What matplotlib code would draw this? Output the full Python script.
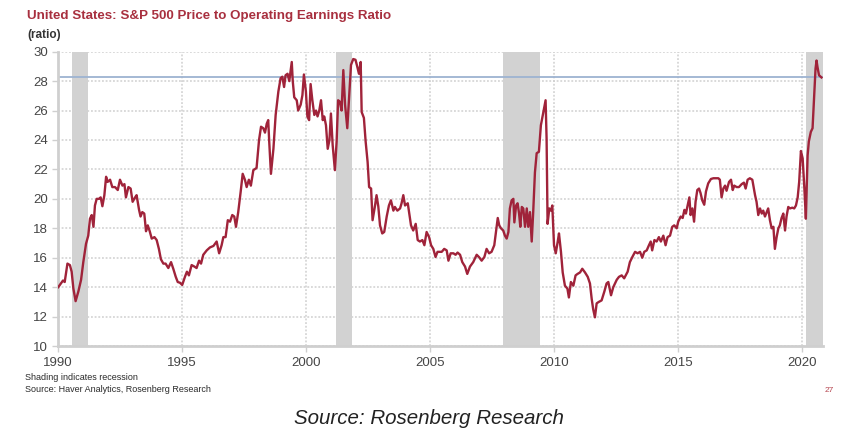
import matplotlib.pyplot as plt

# monthly-ish readings of the S&P 500 P/E (operating earnings), decimal years
dates = [1990.01, 1990.2, 1990.27, 1990.38, 1990.48, 1990.55, 1990.62, 1990.71, 1990.82, 1990.93,
         1991.02, 1991.13, 1991.22, 1991.29, 1991.36, 1991.43, 1991.49, 1991.56, 1991.65, 1991.72,
         1991.79, 1991.87, 1991.94, 1992.0, 1992.1, 1992.19, 1992.3, 1992.41, 1992.5, 1992.6,
         1992.68, 1992.74, 1992.84, 1992.93, 1993.01, 1993.11, 1993.17, 1993.27, 1993.33, 1993.4,
         1993.48, 1993.55, 1993.62, 1993.7, 1993.78, 1993.89, 1993.98, 1994.07, 1994.15, 1994.25,
         1994.34, 1994.45, 1994.56, 1994.65, 1994.75, 1994.83, 1994.92, 1995.01, 1995.12, 1995.2,
         1995.28, 1995.39, 1995.5, 1995.59, 1995.69, 1995.77, 1995.86, 1996.0, 1996.13, 1996.27,
         1996.4, 1996.5, 1996.6, 1996.67, 1996.76, 1996.85, 1996.94, 1997.03, 1997.11, 1997.18,
         1997.27, 1997.37, 1997.45, 1997.54, 1997.61, 1997.7, 1997.78, 1997.88, 1998.01, 1998.11,
         1998.19, 1998.28, 1998.35, 1998.42, 1998.48, 1998.52, 1998.59, 1998.69, 1998.78, 1998.89,
         1998.98, 1999.05, 1999.12, 1999.18, 1999.26, 1999.33, 1999.43, 1999.47, 1999.53, 1999.63,
         1999.69, 1999.79, 1999.86, 1999.92, 2000.0, 2000.06, 2000.13, 2000.19, 2000.26, 2000.34,
         2000.41, 2000.47, 2000.54, 2000.61, 2000.68, 2000.74, 2000.81, 2000.88, 2000.95, 2001.01,
         2001.08, 2001.17, 2001.24, 2001.3, 2001.37, 2001.44, 2001.51, 2001.58, 2001.67, 2001.74,
         2001.82, 2001.91, 2002.0, 2002.07, 2002.14, 2002.21, 2002.25, 2002.34, 2002.41, 2002.49,
         2002.55, 2002.63, 2002.69, 2002.79, 2002.85, 2002.92, 2002.99, 2003.08, 2003.16, 2003.26,
         2003.35, 2003.43, 2003.53, 2003.59, 2003.69, 2003.8, 2003.86, 2003.93, 2004.0, 2004.11,
         2004.17, 2004.24, 2004.33, 2004.43, 2004.51, 2004.6, 2004.7, 2004.78, 2004.87, 2004.97,
         2005.05, 2005.14, 2005.23, 2005.31, 2005.41, 2005.48, 2005.58, 2005.68, 2005.75, 2005.84,
         2005.95, 2006.04, 2006.12, 2006.22, 2006.31, 2006.42, 2006.51, 2006.62, 2006.75, 2006.89,
         2006.98, 2007.09, 2007.2, 2007.29, 2007.39, 2007.49, 2007.6, 2007.67, 2007.74, 2007.8,
         2007.87, 2007.96, 2008.03, 2008.1, 2008.17, 2008.23, 2008.3, 2008.37, 2008.41, 2008.48,
         2008.54, 2008.6, 2008.65, 2008.71, 2008.77, 2008.84, 2008.91, 2008.97, 2009.04, 2009.11,
         2009.17, 2009.24, 2009.31, 2009.4, 2009.48, 2009.58, 2009.67, 2009.71, 2009.75, 2009.82,
         2009.89, 2009.94, 2010.01, 2010.08, 2010.16, 2010.21, 2010.29, 2010.36, 2010.45, 2010.55,
         2010.61, 2010.69, 2010.79, 2010.88, 2010.96, 2011.06, 2011.15, 2011.26, 2011.37, 2011.46,
         2011.53, 2011.59, 2011.66, 2011.73, 2011.82, 2011.93, 2012.04, 2012.13, 2012.2, 2012.31,
         2012.4, 2012.54, 2012.63, 2012.74, 2012.84, 2012.98, 2013.07, 2013.17, 2013.28, 2013.38,
         2013.48, 2013.57, 2013.65, 2013.75, 2013.84, 2013.91, 2013.97, 2014.06, 2014.15, 2014.24,
         2014.32, 2014.42, 2014.51, 2014.59, 2014.69, 2014.78, 2014.86, 2014.96, 2015.02, 2015.12,
         2015.2, 2015.27, 2015.33, 2015.4, 2015.47, 2015.52, 2015.59, 2015.66, 2015.72, 2015.79,
         2015.86, 2015.92, 2015.99, 2016.07, 2016.14, 2016.23, 2016.34, 2016.44, 2016.53, 2016.64,
         2016.7, 2016.77, 2016.84, 2016.91, 2016.97, 2017.07, 2017.15, 2017.22, 2017.28, 2017.38,
         2017.47, 2017.58, 2017.67, 2017.74, 2017.82, 2017.91, 2018.01, 2018.12, 2018.18, 2018.25,
         2018.32, 2018.39, 2018.45, 2018.52, 2018.59, 2018.65, 2018.72, 2018.79, 2018.86, 2018.92,
         2018.99, 2019.06, 2019.12, 2019.19, 2019.26, 2019.33, 2019.39, 2019.46, 2019.53, 2019.62,
         2019.7, 2019.77, 2019.84, 2019.9, 2019.97, 2020.04, 2020.11, 2020.17, 2020.24, 2020.29,
         2020.37, 2020.44, 2020.5, 2020.56, 2020.6, 2020.64, 2020.7, 2020.8]

ratio = [14.0, 14.45, 14.35, 15.6, 15.5, 15.05, 13.9, 13.05, 13.7, 14.5,
         15.7, 16.95, 17.5, 18.65, 18.9, 18.1, 19.55, 20.0, 20.0, 20.1,
         19.5, 20.25, 21.5, 21.15, 21.3, 20.8, 20.8, 20.6, 21.3, 20.9,
         21.0, 20.1, 20.8, 20.7, 19.8, 20.1, 20.25, 19.25, 18.8, 19.1,
         19.0, 17.8, 18.2, 17.8, 17.3, 17.4, 17.2, 16.6, 15.9, 15.6,
         15.6, 15.3, 15.7, 15.25, 14.7, 14.35, 14.3, 14.15, 14.7, 15.05,
         14.8, 15.5, 15.4, 15.3, 15.8, 15.6, 16.2, 16.5, 16.7, 16.8,
         17.1, 16.3, 16.85, 17.4, 17.4, 18.55, 18.45, 18.9, 18.8, 18.1,
         19.1, 20.5, 21.7, 21.3, 20.8, 21.3, 20.9, 21.95, 22.1, 24.0,
         24.9, 24.8, 24.5, 25.1, 25.35, 23.9, 21.7, 23.4, 25.7, 27.3,
         28.2, 28.3, 27.6, 28.4, 28.5, 28.0, 29.3, 28.0, 26.9, 26.7,
         26.0, 26.4, 27.05, 28.45, 27.3, 25.6, 25.35, 27.8, 26.7, 25.7,
         26.0, 25.6, 26.0, 26.7, 25.35, 25.6, 25.0, 23.4, 24.0, 25.8,
         23.65, 21.95, 23.9, 26.7, 26.6, 26.0, 28.75, 26.4, 24.8, 26.8,
         29.1, 29.5, 29.45, 29.0, 28.5, 29.3, 25.9, 25.5, 23.9, 22.5,
         20.8, 20.7, 18.55, 19.55, 20.25, 19.5, 18.2, 17.65, 17.75, 18.8,
         19.55, 19.9, 19.2, 19.45, 19.2, 19.35, 19.7, 20.25, 19.55, 19.7,
         19.0, 18.2, 17.85, 18.3, 17.2, 17.1, 17.2, 16.85, 17.75, 17.4,
         16.85, 16.6, 16.05, 16.4, 16.4, 16.4, 16.6, 16.5, 15.8, 16.3,
         16.3, 16.2, 16.35, 16.2, 15.7, 15.4, 14.9, 15.4, 15.7, 16.2,
         16.05, 15.8, 16.05, 16.6, 16.3, 16.4, 16.85, 17.75, 18.7, 18.2,
         18.0, 17.85, 17.5, 17.3, 17.75, 19.35, 19.9, 20.0, 18.4, 19.55,
         19.7, 19.0, 18.1, 19.45, 19.35, 18.1, 19.35, 18.1, 19.1, 17.1,
         19.1, 21.8, 23.1, 23.2, 25.0, 25.9, 26.7, 24.1, 18.3, 19.35,
         19.2, 19.55, 16.85, 16.3, 17.1, 17.65, 16.4, 15.0, 14.1, 13.9,
         13.3, 14.35, 14.1, 14.8, 14.9, 15.0, 15.25, 15.0, 14.7, 14.25,
         13.2, 12.5, 11.95, 12.9, 13.0, 13.1, 13.7, 14.25, 14.35, 13.45,
         14.0, 14.5, 14.7, 14.8, 14.6, 15.05, 15.7, 16.05, 16.4, 16.3,
         16.4, 16.0, 16.4, 16.5, 16.85, 17.1, 16.5, 17.2, 17.1, 17.4,
         17.1, 17.5, 16.85, 17.4, 17.5, 18.1, 18.2, 18.0, 18.45, 18.8,
         18.7, 19.25, 19.0, 19.55, 20.1, 18.9, 19.35, 18.45, 19.8, 20.6,
         20.7, 20.4, 19.9, 19.6, 20.5, 21.05, 21.35, 21.4, 21.4, 21.4,
         21.3, 20.1, 20.7, 20.9, 20.55, 21.15, 21.3, 20.6, 20.9, 20.8,
         20.8, 21.0, 21.1, 20.7, 21.3, 21.4, 21.3, 20.25, 19.8, 18.9,
         19.35, 19.0, 19.2, 18.8, 19.1, 19.35, 18.55, 18.0, 18.1, 16.6,
         17.4, 18.0, 18.2, 18.7, 19.0, 17.85, 18.8, 19.45, 19.35, 19.4,
         19.35, 19.55, 20.1, 21.15, 23.25, 22.75, 20.7, 18.65, 22.95, 23.9,
         24.55, 24.8, 26.8, 28.85, 29.4, 28.95, 28.4, 28.25]

# NBER recessions
rec_start = [1990.58, 2001.21, 2007.96, 2020.17]
rec_end = [1991.22, 2001.87, 2009.46, 2020.9]

ref_level = 28.3
y_ticks = [10, 12, 14, 16, 18, 20, 22, 24, 26, 28, 30]
x_ticks = [1990, 1995, 2000, 2005, 2010, 2015, 2020]

title = 'United States: S&P 500 Price to Operating Earnings Ratio'
unit = '(ratio)'
note1 = 'Shading indicates recession'
note2 = 'Source: Haver Analytics, Rosenberg Research'
page = '27'
caption = 'Source: Rosenberg Research'

plt.rcParams['font.family'] = ['Liberation Sans', 'DejaVu Sans']

fig = plt.figure(figsize=(8.42, 4.38), dpi=100)
ax = fig.add_axes([0.0689, 0.210, 0.9085, 0.672])

for s, e in zip(rec_start, rec_end):
    ax.axvspan(s, e, color='#d2d2d2', lw=0, zorder=1)

ax.axhline(ref_level, color='#9db3d1', lw=1.3, zorder=2)
ax.plot(dates, ratio, color='#a0233a', lw=1.7, zorder=3)

ax.set_xlim(1990, 2020.86)
ax.set_ylim(10, 30)
ax.set_xticks(x_ticks)
ax.set_yticks(y_ticks)
ax.set_axisbelow(True)
ax.grid(True, color='#d0d0d0', linestyle=(0, (1.2, 1.2)), lw=1.1)

for side in ['top', 'right']:
    ax.spines[side].set_visible(False)
for side in ['left', 'bottom']:
    ax.spines[side].set_color('#cfcfcf')
    ax.spines[side].set_linewidth(2)

ax.tick_params(axis='both', length=4, width=1, color='#cfcfcf',
               labelsize=9.5, labelcolor='#454545', pad=3)
ax.tick_params(axis='x', pad=4)

fig.text(27 / 842, 1 - 16 / 438, title, color='#a8303f', fontsize=9.6,
         fontweight='bold', va='center', ha='left')
fig.text(27 / 842, 1 - 35 / 438, unit, color='#333333', fontsize=8.5,
         fontweight='bold', va='center', ha='left')

fig.text(25 / 842, 1 - 377 / 438, note1, color='#2a2a2a', fontsize=6.5, va='center')
fig.text(25 / 842, 1 - 389 / 438, note2, color='#2a2a2a', fontsize=6.5, va='center')
fig.text(829 / 842, 1 - 390 / 438, page, color='#b5454f', fontsize=6, va='center', ha='center')

fig.text(429 / 842, 1 - 419 / 438, caption, color='#222222', fontsize=14.8,
         style='italic', va='center', ha='center')

fig.savefig('out.png', dpi=100)
